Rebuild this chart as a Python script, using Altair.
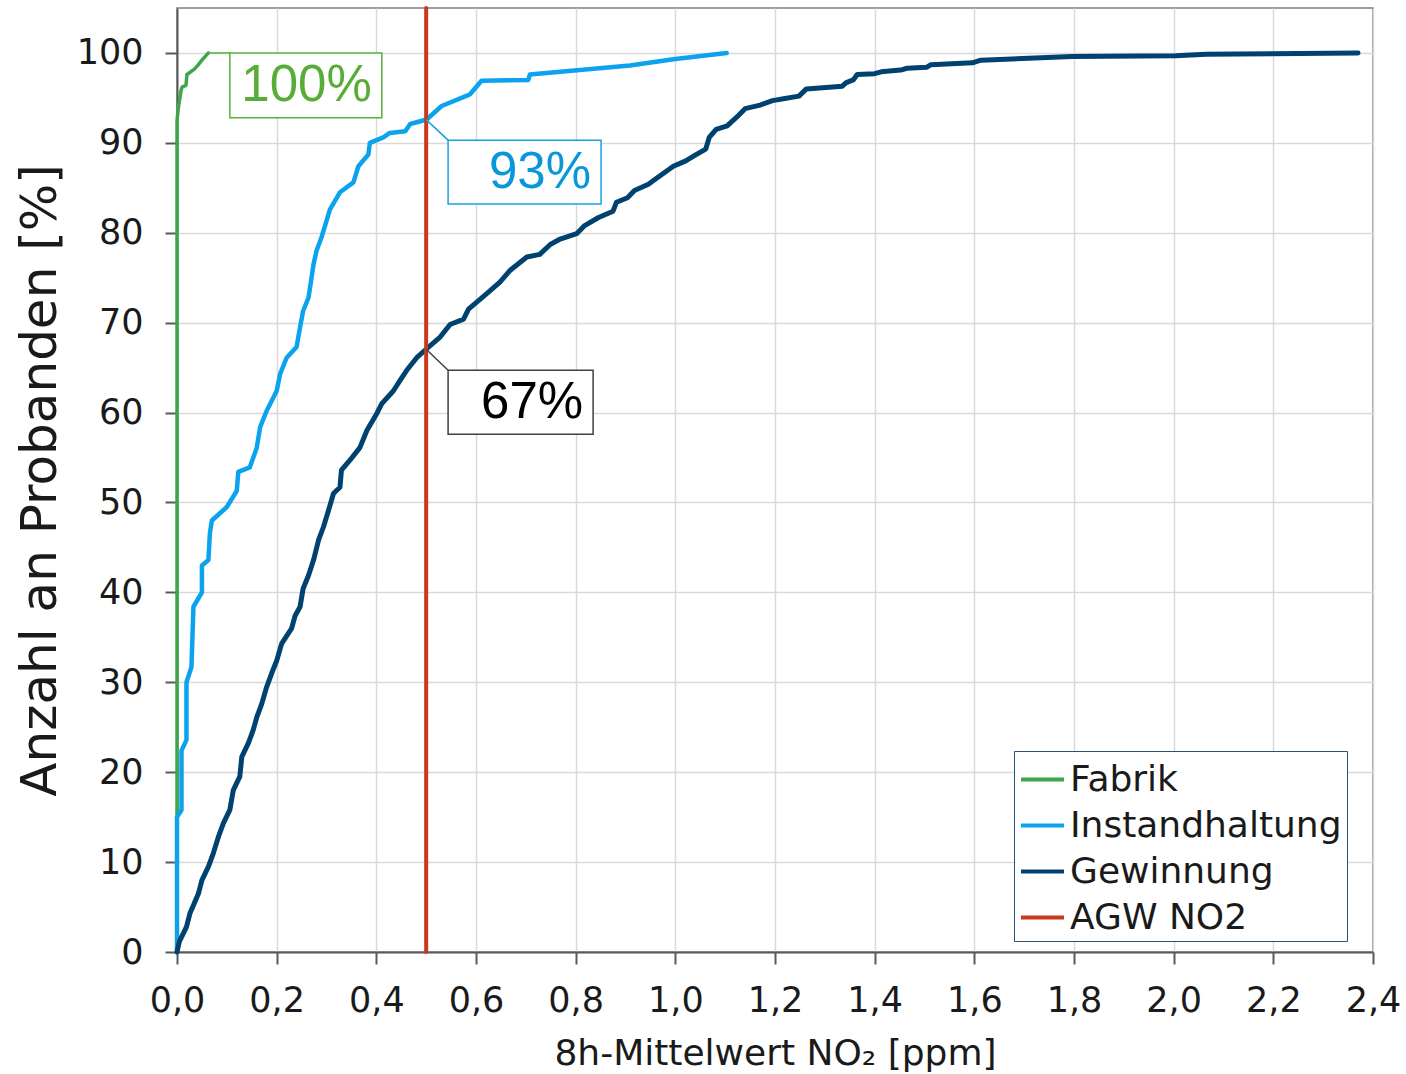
import altair as alt
import numpy as np
import pandas as pd

# Cumulative share of test persons (%) against their 8h mean NO2 exposure (ppm)
SERIES = ["Fabrik", "Instandhaltung", "Gewinnung", "AGW NO2"]
COLORS = ["#3DA64A", "#0BA3EE", "#00426F", "#C8391E"]
LINE_WIDTHS = [3.5, 4.5, 5.0, 4.0]

fabrik_x = [0.0, 0.0, 0.003, 0.008, 0.010, 0.018, 0.020, 0.035, 0.043, 0.050, 0.063]
fabrik_y = [0.0, 92.5, 94.0, 95.8, 96.2, 96.4, 97.6, 98.2, 98.7, 99.2, 100.0]

instand_x = [0.0, 0.0, 0.009, 0.009, 0.019, 0.019, 0.029, 0.033, 0.050, 0.050,
             0.063, 0.066, 0.070, 0.100, 0.120, 0.123, 0.146, 0.160, 0.167, 0.180,
             0.200, 0.207, 0.220, 0.240, 0.247, 0.253, 0.264, 0.274, 0.280, 0.290,
             0.307, 0.327, 0.354, 0.364, 0.384, 0.387, 0.414, 0.427, 0.458, 0.468,
             0.501, 0.531, 0.588, 0.611, 0.705, 0.708, 0.909, 0.996, 1.103]
instand_y = [0.0, 15.0, 15.8, 22.4, 23.6, 30.0, 31.7, 38.4, 40.0, 43.0,
             43.6, 46.6, 48.0, 49.5, 51.3, 53.4, 53.9, 56.1, 58.4, 60.2,
             62.4, 64.3, 66.1, 67.3, 69.5, 71.3, 72.8, 76.5, 78.0, 79.5,
             82.6, 84.5, 85.6, 87.4, 88.7, 90.0, 90.6, 91.1, 91.3, 92.1,
             92.6, 94.1, 95.4, 96.9, 97.0, 97.6, 98.6, 99.3, 100.0]

gewinnung_x = [0.0, 0.005, 0.013, 0.019, 0.026, 0.033, 0.043, 0.050, 0.063, 0.073,
               0.083, 0.093, 0.106, 0.113, 0.126, 0.130, 0.143, 0.153, 0.160, 0.170,
               0.180, 0.190, 0.200, 0.210, 0.230, 0.237, 0.247, 0.253, 0.264, 0.274,
               0.284, 0.294, 0.304, 0.314, 0.327, 0.330, 0.347, 0.367, 0.381, 0.401,
               0.411, 0.434, 0.448, 0.461, 0.481, 0.501, 0.528, 0.548, 0.575, 0.585,
               0.621, 0.648, 0.668, 0.702, 0.728, 0.749, 0.769, 0.802, 0.818, 0.846,
               0.875, 0.882, 0.904, 0.918, 0.946, 0.961, 0.996, 1.021, 1.039, 1.061,
               1.068, 1.082, 1.104, 1.122, 1.140, 1.170, 1.195, 1.217, 1.248, 1.263,
               1.335, 1.343, 1.357, 1.365, 1.400, 1.413, 1.452, 1.465, 1.504, 1.513,
               1.596, 1.613, 1.709, 1.796, 2.004, 2.065, 2.370]
gewinnung_y = [0.0, 1.2, 2.1, 2.8, 4.3, 5.2, 6.5, 8.0, 9.5, 11.0,
               12.8, 14.3, 15.8, 18.0, 19.5, 21.7, 23.2, 24.7, 26.1, 27.6,
               29.5, 31.0, 32.4, 34.3, 36.0, 37.4, 38.4, 40.4, 41.9, 43.6,
               45.8, 47.3, 49.1, 51.0, 51.7, 53.6, 54.7, 56.1, 58.0, 59.9,
               61.0, 62.4, 63.6, 64.7, 66.1, 67.1, 68.4, 69.8, 70.4, 71.5,
               73.2, 74.5, 75.8, 77.3, 77.6, 78.7, 79.3, 79.9, 80.8, 81.7,
               82.4, 83.4, 83.9, 84.7, 85.4, 86.0, 87.4, 88.0, 88.6, 89.3,
               90.6, 91.5, 91.9, 92.8, 93.8, 94.2, 94.7, 94.9, 95.2, 96.0,
               96.3, 96.7, 97.0, 97.6, 97.7, 97.9, 98.1, 98.3, 98.4, 98.7,
               98.9, 99.2, 99.4, 99.6, 99.7, 99.85, 100.0]

# occupational exposure limit (AGW) for NO2
agw_x = [0.5, 0.5]
agw_y = [0.0, 105.0]

x_ticks = [0.0, 0.2, 0.4, 0.6, 0.8, 1.0, 1.2, 1.4, 1.6, 1.8, 2.0, 2.2, 2.4]
y_ticks = [0, 10, 20, 30, 40, 50, 60, 70, 80, 90, 100]

rows = []
for name, xs, ys in zip(SERIES, [fabrik_x, instand_x, gewinnung_x, agw_x],
                        [fabrik_y, instand_y, gewinnung_y, agw_y]):
    for i, (xv, yv) in enumerate(zip(xs, ys)):
        rows.append({"series": name, "idx": i, "x": xv, "y": yv})
df = pd.DataFrame(rows)

# callouts: share of persons below the limit value, boxes placed in data units
at_limit_instand = float(np.interp(0.5, instand_x, instand_y))
at_limit_gewinnung = float(np.interp(0.5, gewinnung_x, gewinnung_y))
ann = pd.DataFrame([
    {"label": "100%", "ax": fabrik_x[-1], "ay": fabrik_y[-1],
     "x0": 0.106, "x1": 0.411, "y0": 100.0, "y1": 92.8,
     "edge": "#5AAE3C", "ink": "#58AC38"},
    {"label": "93%", "ax": 0.5, "ay": at_limit_instand,
     "x0": 0.544, "x1": 0.851, "y0": 90.3, "y1": 83.2,
     "edge": "#1AA0E2", "ink": "#0A97DA"},
    {"label": "67%", "ax": 0.5, "ay": at_limit_gewinnung,
     "x0": 0.544, "x1": 0.835, "y0": 64.7, "y1": 57.6,
     "edge": "#404040", "ink": "#000000"},
])
ann["ym"] = (ann["y0"] + ann["y1"]) / 2

FONT = "DejaVu Sans"
x_scale = alt.Scale(domain=[0, 2.4], nice=False, zero=False)
y_scale = alt.Scale(domain=[0, 105], nice=False)
color_scale = alt.Scale(domain=SERIES, range=COLORS)

x_axis = alt.Axis(values=x_ticks, title="8h-Mittelwert NO₂ [ppm]",
                  labelExpr="replace(format(datum.value, '.1f'), '.', ',')",
                  labelPadding=19, titlePadding=18, titleFontSize=36,
                  labelFlush=False)
y_axis = alt.Axis(values=y_ticks, title="Anzahl an Probanden [%]",
                  labelPadding=22, titlePadding=11, titleFontSize=50)

legend = alt.Legend(orient="none", legendX=837, legendY=743, title=None,
                    symbolType="stroke", symbolSize=1849, symbolStrokeWidth=4,
                    labelFontSize=36, labelFont=FONT, labelColor="#1a1a1a",
                    labelLimit=500, strokeColor="#2A4F7A", fillColor="white",
                    padding=5, rowPadding=4, labelOffset=4)


def xq(field):
    return alt.X(field, type="quantitative", scale=x_scale, axis=x_axis)


def yq(field):
    return alt.Y(field, type="quantitative", scale=y_scale, axis=y_axis)


layers = []
for name, w in zip(SERIES, LINE_WIDTHS):
    layers.append(
        alt.Chart(df).transform_filter(alt.datum.series == name)
        .mark_line(strokeWidth=w, strokeCap="round", strokeJoin="round")
        .encode(
            x=xq("x"), y=yq("y"),
            color=alt.Color("series:N", scale=color_scale, legend=legend),
            order=alt.Order("idx:Q"),
        )
    )

base_ann = alt.Chart(ann)
leaders = base_ann.mark_rule(strokeWidth=1.5).encode(
    x=xq("ax"), y=yq("ay"), x2="x0:Q", y2="y0:Q",
    stroke=alt.Stroke("edge:N", scale=None),
)
boxes = base_ann.mark_rect(fill="white", strokeWidth=1.5).encode(
    x=xq("x0"), x2="x1:Q", y=yq("y0"), y2="y1:Q",
    stroke=alt.Stroke("edge:N", scale=None),
)
texts = base_ann.mark_text(align="right", baseline="middle", dx=-10, dy=1,
                           font="Liberation Sans", fontSize=51).encode(
    x=xq("x1"), y=yq("ym"),
    text="label:N",
    fill=alt.Fill("ink:N", scale=None),
)

chart = alt.layer(*layers, leaders, boxes, texts).properties(
    width=1196, height=944,
    autosize=alt.AutoSizeParams(type="none"),
    padding={"left": 177, "top": 8, "right": 33, "bottom": 122},
    background="white",
).configure_view(
    stroke="#7F7F7F", strokeWidth=1.5
).configure_axis(
    domainColor="#595959", domainWidth=2, tickColor="#595959", tickWidth=2,
    tickSize=12, labelFont=FONT, labelFontSize=35, labelColor="#1a1a1a",
    titleFont=FONT, titleFontWeight="normal", titleColor="#1a1a1a",
    gridColor="#D9D9D9", gridWidth=1.5,
)

chart.save("out.html", embed_options={"renderer": "svg", "actions": False})
